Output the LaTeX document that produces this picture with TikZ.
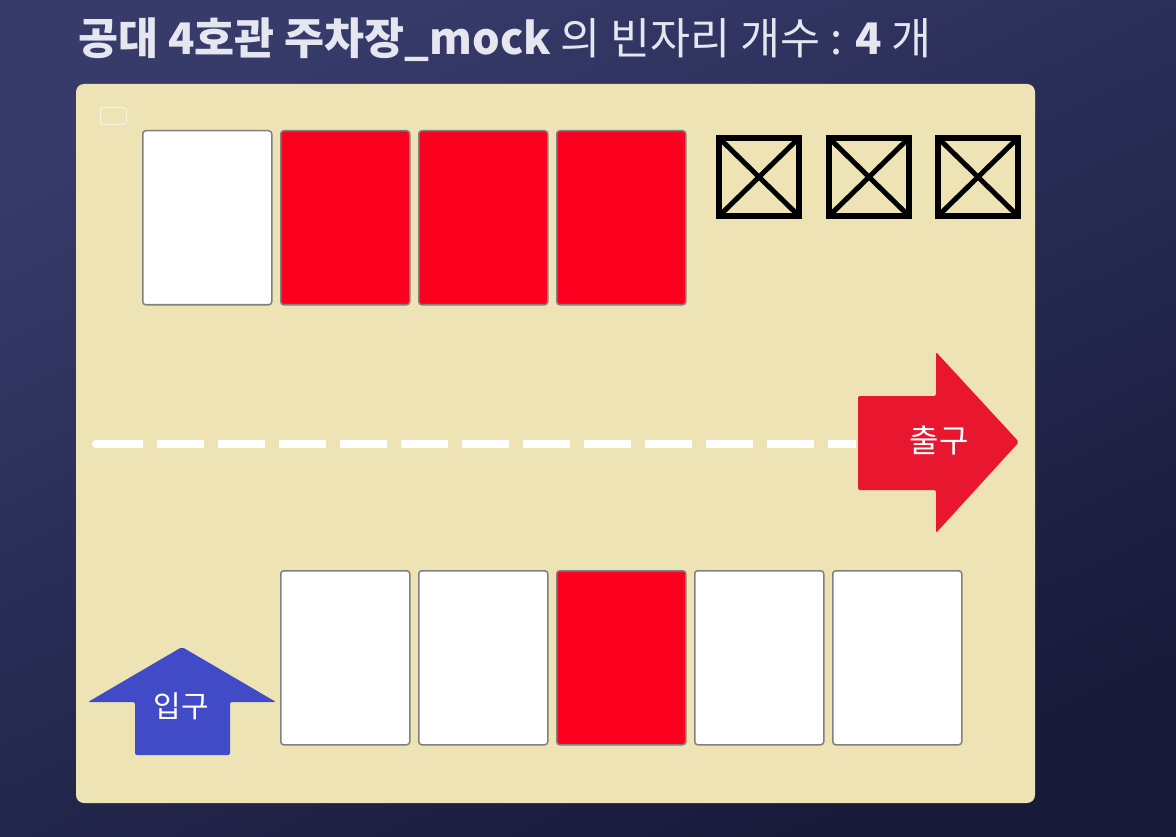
\documentclass[tikz,border=0pt]{standalone}
\usepackage{fontspec}
\newfontfamily\kr{Noto Sans CJK KR}
\definecolor{bgA}{RGB}{54,59,106}
\definecolor{bgB}{RGB}{24,26,58}
\definecolor{panel}{RGB}{238,227,181}
\definecolor{tagc}{RGB}{248,242,222}
\definecolor{spotred}{RGB}{252,0,32}
\definecolor{spotline}{RGB}{128,128,128}
\definecolor{exitred}{RGB}{232,22,46}
\definecolor{inblue}{RGB}{65,75,200}
\definecolor{titlec}{RGB}{230,230,240}
\begin{document}
\begin{tikzpicture}[x=1pt,y=-1pt,
  spot/.style={draw=spotline, line width=1.5pt, rounded corners=3pt,
    minimum width=129pt, minimum height=174pt, inner sep=0pt, anchor=north west},
  freespot/.style={spot, fill=white},
  takenspot/.style={spot, fill=spotred},
  xbox/.style={draw=black, line width=6pt, minimum width=80pt, minimum height=78pt, inner sep=0pt},
  xline/.style={black, line width=5pt, shorten >=2.5pt, shorten <=2.5pt},
  lbl/.style={text=white, inner sep=0pt, font=\kr\fontsize{32}{33}\selectfont},
  lane/.style={white, line width=8pt, dash pattern=on 47pt off 14pt}
]
\useasboundingbox (0,0) rectangle (1176,837);
\shade[top color=bgA, bottom color=bgB, shading angle=25] (0,0) rectangle (1176,837);
\fill[panel, rounded corners=8pt] (76,84) rectangle (1035,803);
% title
\node[anchor=base west, inner sep=0pt, text=titlec, font=\kr\fontsize{43.5}{45}\selectfont] (title) at (78,55)
  {\bfseries 공대 4호관 주차장\_mock\mdseries\ 의 빈자리 개수 : \bfseries 4\mdseries\ 개};
% small tag
\node[draw=tagc, line width=1pt, rounded corners=3pt, minimum width=26pt, minimum height=17pt, inner sep=0pt] (tag) at (113.5,116) {};
% top row
\node[freespot]  (t1) at (142,130) {};
\node[takenspot] (t2) at (280,130) {};
\node[takenspot] (t3) at (418,130) {};
\node[takenspot] (t4) at (556,130) {};
% blocked
\node[xbox] (x1) at (759,177) {};
\node[xbox] (x2) at (869,177) {};
\node[xbox] (x3) at (978,177) {};
\foreach \b in {x1,x2,x3}{
  \draw[xline] (\b.north west) -- (\b.south east);
  \draw[xline] (\b.north east) -- (\b.south west);
}
% bottom row
\node[freespot]  (b1) at (280,570) {};
\node[freespot]  (b2) at (418,570) {};
\node[takenspot] (b3) at (556,570) {};
\node[freespot]  (b4) at (694,570) {};
\node[freespot]  (b5) at (832,570) {};
% exit arrow
\fill[exitred, rounded corners=2pt] (858,396) -- (936,396) -- (936,352) -- (1019,442) -- (936,533) -- (936,490) -- (858,490) -- cycle;
\node[lbl] (exit) at (939,440) {출구};
\coordinate (exitin) at (856,444);
% lane line
\coordinate (lanestart) at (96,444);
\fill[white] (lanestart) circle (4pt);
\draw[lane] (lanestart) -- (exitin);
% entrance arrow
\fill[inblue, rounded corners=2pt] (135,755) -- (135,702) -- (88,702) -- (182,647) -- (276,702) -- (230,702) -- (230,755) -- cycle;
\node[lbl, font=\kr\fontsize{30}{31}\selectfont] (entry) at (181,706) {입구};
\end{tikzpicture}
\end{document}
